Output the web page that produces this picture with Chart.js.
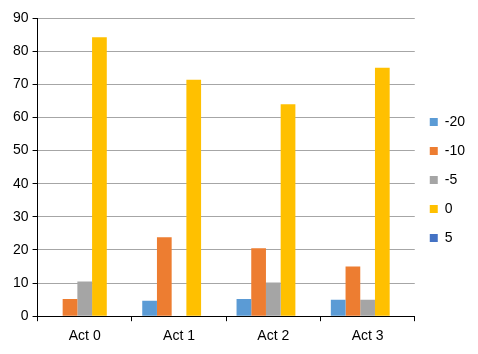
<!DOCTYPE html>
<html>
<head>
<meta charset="utf-8">
<script src="https://cdn.jsdelivr.net/npm/chart.js@4/dist/chart.umd.min.js"></script>
<style>
  html, body { margin: 0; padding: 0; background: #fff; }
  #wrap { width: 478px; height: 354px; }
</style>
</head>
<body>
<div id="wrap"><canvas id="myChart" width="478" height="354"></canvas></div>
<script>
const categories = ['Act 0', 'Act 1', 'Act 2', 'Act 3'];
const seriesNames = ['-20', '-10', '-5', '0', '5'];
const seriesColors = ['#5B9BD5', '#ED7D31', '#A5A5A5', '#FFC000', '#4472C4'];
const valsM20 = [0, 4.7, 5.2, 5.0];
const valsM10 = [5.2, 23.8, 20.5, 15.0];
const valsM5 = [10.5, 0, 10.2, 5.0];
const vals0 = [84.2, 71.4, 64.0, 75.0];
const vals5 = [0, 0, 0, 0];
const yTicks = [0, 10, 20, 30, 40, 50, 60, 70, 80, 90];

const allValues = [valsM20, valsM10, valsM5, vals0, vals5];
const font = { family: '"Liberation Sans Narrow", "Arial Narrow", "Liberation Sans", sans-serif', size: 14 };

const ctx = document.getElementById('myChart').getContext('2d');

new Chart(ctx, {
	type: 'bar',
	data: {
		labels: categories,
		datasets: seriesNames.map((name, i) => ({
			label: name,
			data: allValues[i],
			backgroundColor: seriesColors[i],
			borderWidth: 0,
		})),
	},
	options: {
		responsive: false,
		animation: false,
		layout: { padding: { top: 18, left: 9, right: 3, bottom: 2 } },
		datasets: {
			bar: { categoryPercentage: 0.78, barPercentage: 1.0 },
		},
		plugins: {
			tooltip: { enabled: false },
			legend: {
				position: 'right',
				align: 'start',
				// empty title only used as a spacer to push the items down
				title: { display: true, text: '', font: { size: 10 }, padding: { top: 70, bottom: 0 } },
				labels: {
					font: font,
					color: '#000',
					boxWidth: 8,
					boxHeight: 8,
					padding: 15,
				},
			},
		},
		scales: {
			x: {
				grid: {
					drawOnChartArea: false,
					color: '#000',
					tickLength: 5,
					offset: true,
				},
				border: { color: '#000', width: 1 },
				ticks: { font: font, color: '#000', padding: 7 },
			},
			y: {
				min: 0,
				max: 90,
				afterBuildTicks: (axis) => { axis.ticks = yTicks.map(v => ({ value: v })); },
				grid: {
					color: '#A6A6A6',
					tickColor: '#000',
					tickLength: 5,
				},
				border: { color: '#000', width: 1 },
				ticks: { font: font, color: '#000', padding: 4 },
			},
		},
	},
});
</script>
</body>
</html>
